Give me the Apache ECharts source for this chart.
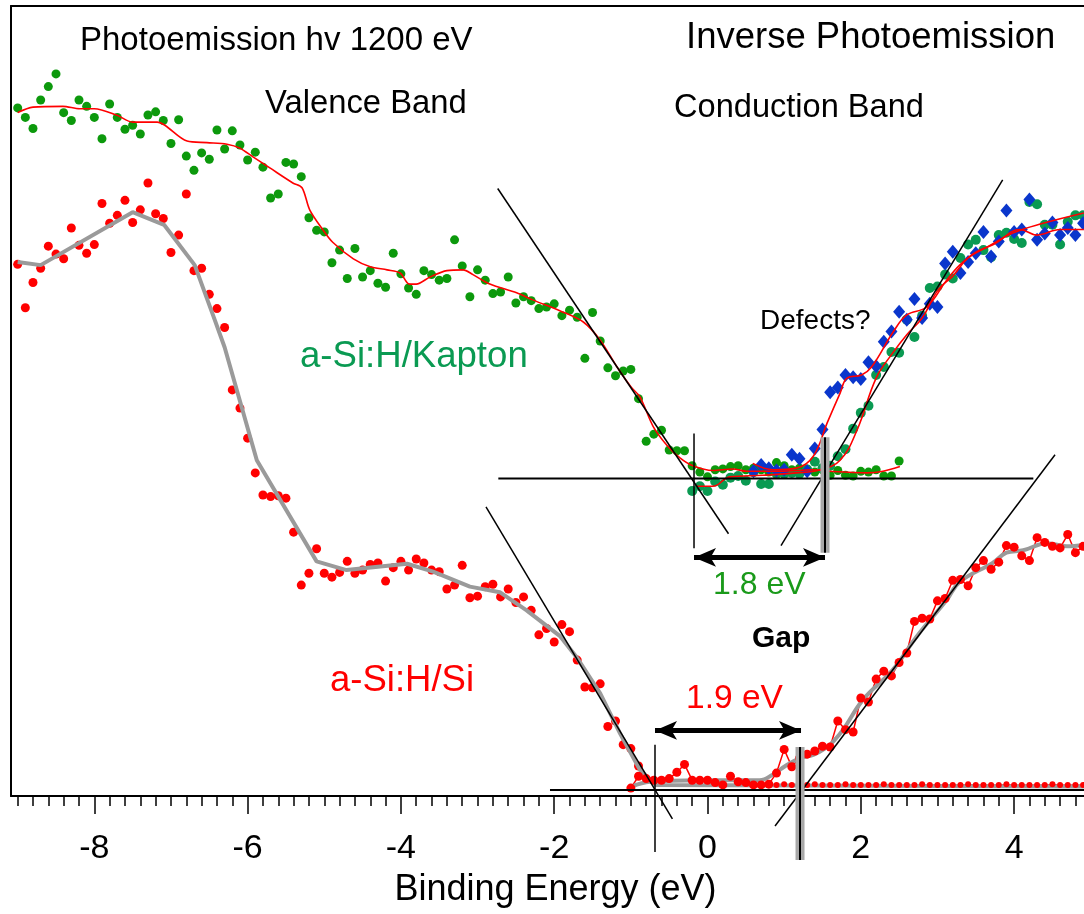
<!DOCTYPE html>
<html><head><meta charset="utf-8">
<script src="https://cdn.jsdelivr.net/npm/echarts@6/dist/echarts.min.js"></script>
<style>html,body{margin:0;padding:0;background:#fff}#c{width:1084px;height:914px}</style>
</head><body><div id="c"></div>
<script>
// ---------- axis ticks ----------
const majorTicks = [-8, -6, -4, -2, 0, 2, 4];
const minorTicks = [];
for (let k = -90; k <= 48; k += 2) minorTicks.push(k / 10);
const X_MIN = -9.087, X_MAX = 4.912;

// ---------- a-Si:H/Kapton : photoemission (valence band) ----------
const kaptonVB = [[-9.0,87.1],[-8.9,85.9],[-8.8,84.5],[-8.7,88.1],[-8.6,89.8],[-8.5,91.4],[-8.4,86.5],[-8.3,85.5],[-8.2,88.1],[-8.1,87.3],[-8.0,85.9],[-7.9,83.2],[-7.8,87.6],[-7.7,85.9],[-7.6,84.4],[-7.5,84.9],[-7.4,83.8],[-7.3,86.2],[-7.2,86.6],[-7.1,85.5],[-7.0,82.6],[-6.9,85.6],[-6.8,81.0],[-6.7,79.2],[-6.6,81.4],[-6.5,80.6],[-6.4,84.3],[-6.3,81.9],[-6.2,84.2],[-6.1,82.4],[-6.0,80.5],[-5.9,81.5],[-5.8,79.6],[-5.7,75.7],[-5.6,76.2],[-5.5,80.2],[-5.4,80.0],[-5.3,78.4],[-5.2,73.2],[-5.1,71.6],[-5.0,71.4],[-4.9,67.5],[-4.8,69.1],[-4.7,65.5],[-4.6,69.3],[-4.5,65.7],[-4.4,66.5],[-4.3,64.9],[-4.2,64.4],[-4.1,68.7],[-4.0,66.1],[-3.9,64.3],[-3.8,63.5],[-3.7,66.5],[-3.6,66.0],[-3.5,65.3],[-3.4,65.5],[-3.3,70.4],[-3.2,67.1],[-3.1,63.2],[-3.0,66.6],[-2.9,65.3],[-2.8,63.6],[-2.7,63.8],[-2.6,65.7],[-2.5,62.4],[-2.4,63.2],[-2.3,62.7],[-2.2,61.7],[-2.1,61.9],[-2.0,62.3],[-1.9,60.8],[-1.8,61.5],[-1.7,60.6],[-1.6,55.4],[-1.5,61.2],[-1.4,57.6],[-1.3,54.2],[-1.2,53.2],[-1.1,53.8],[-1.0,54.0],[-0.9,50.3],[-0.8,44.9],[-0.7,45.8],[-0.6,46.3],[-0.5,43.8],[-0.4,43.7],[-0.3,43.7],[-0.2,41.8],[-0.1,41.0],[0.0,40.4],[0.1,41.3],[0.2,41.4],[0.3,41.7],[0.4,41.8],[0.5,41.3],[0.6,41.5],[0.7,41.3],[0.8,41.0],[0.9,42.2],[1.0,41.8],[1.1,41.3],[1.2,41.5],[1.3,41.4],[1.4,41.0],[1.5,41.3],[1.6,40.6],[1.7,41.2],[1.8,40.6],[1.9,40.5],[2.0,41.1],[2.1,41.0],[2.2,41.3],[2.3,40.5],[2.4,40.5],[2.5,42.4]];
const kaptonVBfit = [[-9.0,86.5],[-8.8,87.2],[-8.41,87.3],[-8.19,87.0],[-8.0,87.0],[-7.71,86.2],[-7.5,85.3],[-7.18,85.3],[-7.08,84.9],[-6.79,82.9],[-6.53,82.7],[-6.27,82.5],[-6.1,82.0],[-5.93,80.9],[-5.71,79.5],[-5.41,77.6],[-5.29,77.0],[-5.19,74.2],[-5.02,71.7],[-4.89,70.1],[-4.62,68.0],[-4.4,67.0],[-4.18,66.6],[-4.01,66.2],[-3.89,64.8],[-3.8,64.8],[-3.62,65.7],[-3.4,66.5],[-3.19,66.6],[-3.06,66.0],[-2.84,64.8],[-2.49,63.7],[-2.28,62.8],[-1.92,61.4],[-1.62,60.0],[-1.4,57.7],[-1.18,54.3],[-1.0,51.8],[-0.88,50.5],[-0.71,46.8],[-0.53,44.4],[-0.36,42.8],[-0.19,41.8],[0.07,41.2],[0.33,41.4],[0.51,41.1],[0.95,41.1],[1.38,41.3],[1.6,41.1],[2.08,40.9],[2.29,41.1],[2.51,41.7]];

// ---------- a-Si:H/Kapton : inverse photoemission (conduction band) ----------
const kaptonCBgreen = [[-0.2,38.6],[-0.1,39.2],[0.0,38.6],[0.1,39.8],[0.2,39.4],[0.3,40.3],[0.4,40.5],[0.5,39.9],[0.6,41.0],[0.7,39.5],[0.8,39.5],[0.9,40.8],[1.0,40.8],[1.1,40.9],[1.2,40.8],[1.3,41.3],[1.4,42.3],[1.5,41.5],[1.6,41.8],[1.7,43.0],[1.8,43.9],[1.9,46.5],[2.0,48.5],[2.1,49.4],[2.2,53.3],[2.3,54.3],[2.4,56.2],[2.5,56.1],[2.6,60.3],[2.7,58.1],[2.8,60.8],[2.9,64.3],[3.0,64.5],[3.1,66.0],[3.2,65.5],[3.3,68.1],[3.4,69.8],[3.5,70.4],[3.6,69.1],[3.7,68.2],[3.8,71.0],[3.9,71.3],[4.0,70.5],[4.1,70.0],[4.2,75.2],[4.3,74.9],[4.4,72.3],[4.5,72.3],[4.6,69.8],[4.7,72.7],[4.8,73.5],[4.9,73.5]];
const kaptonCBgreenFit = [[-0.14,39.2],[0.07,39.2],[0.29,40.4],[0.72,40.6],[1.16,40.9],[1.47,41.3],[1.73,42.5],[1.95,46.3],[2.2,52.9],[2.41,56.0],[2.6,58.4],[2.8,60.5],[3.01,64.1],[3.2,65.8],[3.4,68.1],[3.65,69.5],[3.99,71.3],[4.38,72.5],[4.91,73.8]];
const kaptonCBblue = [[0.6,41.1],[0.7,41.9],[0.8,41.5],[0.9,41.2],[1.0,41.3],[1.1,43.2],[1.2,42.7],[1.3,41.1],[1.4,44.0],[1.5,46.4],[1.6,51.1],[1.7,51.7],[1.8,53.3],[1.9,53.0],[2.0,52.8],[2.1,54.9],[2.2,54.4],[2.3,57.5],[2.4,58.8],[2.5,61.3],[2.6,60.3],[2.7,62.9],[2.8,60.5],[2.9,62.3],[3.0,61.9],[3.1,67.4],[3.2,68.9],[3.3,66.2],[3.4,67.6],[3.5,68.7],[3.6,71.4],[3.7,68.3],[3.8,70.2],[3.9,74.1],[4.0,71.4],[4.1,71.7],[4.2,75.5],[4.3,70.4],[4.4,71.2],[4.5,72.6],[4.6,71.0],[4.7,71.9],[4.8,71.0],[4.9,72.5]];
const kaptonCBblueFit = [[0.59,42.1],[0.86,41.3],[1.16,41.5],[1.38,43.0],[1.56,47.2],[1.73,51.0],[1.82,52.9],[2.01,53.3],[2.14,54.3],[2.42,58.7],[2.6,60.9],[2.86,61.9],[3.12,65.3],[3.29,67.2],[3.51,68.9],[3.73,69.8],[4.08,71.7],[4.3,71.0],[4.6,71.7],[4.91,71.7]];

// ---------- a-Si:H/Si ----------
const siVB = [[-9.0,67.3],[-8.9,61.8],[-8.8,65.0],[-8.7,66.8],[-8.6,69.6],[-8.5,68.6],[-8.4,68.0],[-8.3,71.9],[-8.2,69.7],[-8.1,68.7],[-8.0,69.8],[-7.9,75.0],[-7.8,72.5],[-7.7,73.5],[-7.6,75.4],[-7.5,72.6],[-7.4,74.2],[-7.3,77.6],[-7.2,73.7],[-7.1,73.1],[-7.0,68.8],[-6.9,71.0],[-6.8,76.2],[-6.7,66.5],[-6.6,66.8],[-6.5,63.5],[-6.4,61.7],[-6.3,59.3],[-6.2,51.4],[-6.1,49.1],[-6.0,45.3],[-5.9,40.9],[-5.8,38.1],[-5.7,37.9],[-5.6,38.0],[-5.5,37.7],[-5.4,33.4],[-5.3,26.7],[-5.2,28.2],[-5.1,31.3],[-5.0,28.2],[-4.9,27.7],[-4.8,28.3],[-4.7,29.7],[-4.6,28.2],[-4.5,28.6],[-4.4,29.3],[-4.3,29.5],[-4.2,27.2],[-4.1,28.9],[-4.0,29.7],[-3.9,28.6],[-3.8,30.0],[-3.7,29.5],[-3.6,28.6],[-3.5,28.4],[-3.4,26.2],[-3.3,26.7],[-3.2,29.2],[-3.1,25.1],[-3.0,25.3],[-2.9,26.5],[-2.8,26.8],[-2.7,25.2],[-2.6,26.2],[-2.5,24.5],[-2.4,25.2],[-2.3,23.5],[-2.2,20.4],[-2.1,21.2],[-2.0,19.5],[-1.9,21.7],[-1.8,20.8],[-1.7,17.2],[-1.6,13.8],[-1.5,13.7],[-1.4,14.2],[-1.3,8.8],[-1.2,9.5],[-1.1,6.5],[-1.0,6.0],[-0.9,3.8]];
const siVBfit = [[-9.0,67.6],[-8.7,67.2],[-7.5,73.9],[-7.09,72.3],[-6.69,67.2],[-6.43,60.3],[-6.3,56.8],[-5.88,42.5],[-5.1,29.7],[-4.71,28.6],[-3.92,29.4],[-3.58,28.4],[-3.1,26.5],[-2.71,25.8],[-2.36,23.5],[-1.92,20.2],[-1.71,17.6],[-1.4,13.0],[-1.14,7.9],[-0.88,3.3],[-0.68,1.4],[4.91,1.2]];
const siBase = [[0.8,1.4],[0.9,1.4],[1.0,1.5],[1.1,1.4],[1.2,1.4],[1.3,1.4],[1.4,1.5],[1.5,1.4],[1.6,1.4],[1.7,1.4],[1.8,1.5],[1.9,1.4],[2.0,1.4],[2.1,1.4],[2.2,1.4],[2.3,1.5],[2.4,1.4],[2.5,1.4],[2.6,1.4],[2.7,1.4],[2.8,1.5],[2.9,1.4],[3.0,1.4],[3.1,1.4],[3.2,1.4],[3.3,1.4],[3.4,1.5],[3.5,1.4],[3.6,1.4],[3.7,1.4],[3.8,1.4],[3.9,1.5],[4.0,1.4],[4.1,1.4],[4.2,1.4],[4.3,1.4],[4.4,1.4],[4.5,1.5],[4.6,1.4],[4.7,1.4],[4.8,1.4],[4.9,1.4]];
const siCB = [[-1.0,1.0],[-0.9,2.5],[-0.8,2.2],[-0.7,2.0],[-0.6,2.0],[-0.5,2.2],[-0.4,3.0],[-0.3,4.0],[-0.2,2.0],[-0.1,2.0],[0.0,2.0],[0.1,1.7],[0.2,1.4],[0.3,2.5],[0.4,1.8],[0.5,1.7],[0.6,1.4],[0.7,1.4],[0.8,1.5],[0.9,2.9],[1.0,5.9],[1.1,3.7],[1.2,4.8],[1.3,5.3],[1.4,5.7],[1.5,6.3],[1.6,6.2],[1.7,9.5],[1.8,8.4],[1.9,8.1],[2.0,12.4],[2.1,11.9],[2.2,14.8],[2.3,15.8],[2.4,15.2],[2.5,16.9],[2.6,18.1],[2.7,22.1],[2.8,22.5],[2.9,22.4],[3.0,24.7],[3.1,25.0],[3.2,27.3],[3.3,27.4],[3.4,26.6],[3.5,28.9],[3.6,29.8],[3.7,28.7],[3.8,29.6],[3.9,31.7],[4.0,31.5],[4.1,30.4],[4.2,29.8],[4.3,32.7],[4.4,32.1],[4.5,31.6],[4.6,31.4],[4.7,33.1],[4.8,30.8],[4.9,31.6]];
const siCBfit = [[-0.99,1.2],[-0.75,1.8],[-0.1,2.0],[0.68,2.0],[0.85,2.7],[1.03,3.9],[1.21,4.8],[1.38,5.2],[1.56,6.2],[1.64,6.9],[1.77,8.4],[2.03,12.2],[2.42,16.0],[2.73,20.2],[3.12,24.8],[3.29,27.1],[3.72,29.5],[3.9,30.8],[4.12,31.1],[4.43,32.0],[4.69,31.6],[4.91,31.8]];

// ---------- gap construction lines ----------
const kaptonVBedge = [[-2.737,76.9],[0.274,33.2]];
const kaptonCBedge = [[0.959,31.7],[3.851,78.0]];
const kaptonBaseline = [[-2.729,40.2],[4.251,40.2]];
const kaptonVBM = [[-0.176,45.9],[-0.176,31.35]];
const kaptonCBM = [[1.533,45.4],[1.533,30.8]];
const kaptonGapArrow = [-0.176, 1.533, 30.2];
const siVBedge = [[-2.890,36.6],[-0.458,-2.9]];
const siCBedge = [[0.881,-3.8],[4.534,43.2]];
const siBaseline = [[-2.055,0.76],[4.912,0.76]];
const siVBM = [[-0.685,6.5],[-0.685,-7.1]];
const siCBM = [[1.207,6.2],[1.207,-8.1]];
const siGapArrow = [-0.685, 1.220, 8.3];

const FONT = '"Liberation Sans", Arial, sans-serif';
const RED = '#ff0000', GREEN = '#0c990c', TEAL = '#0a9a52', BLUE = '#0a36cc', GREY = '#9a9a9a';

function blackLine(d, w) {
  return {type: 'line', data: d, symbol: 'none', clip: false, silent: true,
    lineStyle: {color: '#000', width: w || 1.5}, z: 5};
}
function bar(d) {
  return [
    {type: 'line', data: d, symbol: 'none', clip: false, silent: true, lineStyle: {color: '#a8a8a8', width: 9, cap: 'butt'}, z: 6},
    {type: 'line', data: d, symbol: 'none', clip: false, silent: true, lineStyle: {color: '#000', width: 2, cap: 'butt'}, z: 7}
  ];
}
function arrow(a) {
  return {type: 'line', data: [], symbol: 'none', silent: true, z: 8,
    markLine: {silent: true, symbol: ['arrow', 'arrow'], symbolSize: [14, 22], label: {show: false},
      lineStyle: {color: '#000', width: 5, type: 'solid'},
      data: [[{coord: [a[0], a[2]]}, {coord: [a[1], a[2]]}]]}};
}
function dots(d, color, size, sym) {
  return {type: 'scatter', data: d, symbol: sym || 'circle', symbolSize: size,
    itemStyle: {color: color, opacity: 1}, silent: true};
}

const chart = echarts.init(document.getElementById('c'), null, {renderer: 'canvas'});
const textEl = (t, x, y, size, color, weight) => ({type: 'text', x: x, y: y, z: 100,
  style: {text: t, fill: color || '#000', font: (weight || 'normal') + ' ' + size + 'px ' + FONT, align: 'left', verticalAlign: 'middle'}});

chart.setOption({
  animation: false,
  backgroundColor: '#fff',
  grid: {left: 11, right: 0, top: 6, bottom: 118, containLabel: false},
  xAxis: [
    {type: 'value', min: X_MIN, max: X_MAX, position: 'bottom',
      axisLine: {show: true, onZero: false, lineStyle: {color: '#000', width: 2}},
      axisTick: {show: true, customValues: majorTicks, length: 18, lineStyle: {color: '#000', width: 1.5}},
      axisLabel: {show: true, customValues: majorTicks, margin: 36, fontSize: 34, color: '#000', fontFamily: FONT},
      splitLine: {show: false},
      name: 'Binding Energy (eV)', nameLocation: 'middle', nameGap: 76,
      nameTextStyle: {fontSize: 36, color: '#000', fontFamily: FONT, padding: [0, 0, 0, 16]}},
    {type: 'value', min: X_MIN, max: X_MAX, position: 'bottom',
      axisLine: {show: false, onZero: false},
      axisTick: {show: true, customValues: minorTicks, length: 10, lineStyle: {color: '#000', width: 1.5}},
      axisLabel: {show: false}, splitLine: {show: false}},
    {type: 'value', min: X_MIN, max: X_MAX, position: 'top',
      axisLine: {show: true, onZero: false, lineStyle: {color: '#000', width: 2}},
      axisTick: {show: false}, axisLabel: {show: false}, splitLine: {show: false}}
  ],
  yAxis: {type: 'value', min: 0, max: 100,
    axisLine: {show: true, onZero: false, lineStyle: {color: '#000', width: 2}},
    axisTick: {show: false}, axisLabel: {show: false}, splitLine: {show: false}},
  series: [
    dots(kaptonVB, GREEN, 9),
    dots(siVB, RED, 9),
    {type: 'line', data: siBase, symbol: 'circle', symbolSize: 6, showSymbol: true, itemStyle: {color: RED, opacity: 1}, lineStyle: {color: RED, width: 1}, silent: true},
    dots(kaptonCBgreen, TEAL, 10),
    dots(kaptonCBblue, BLUE, [12, 14], 'diamond'),
    {type: 'line', data: siCB, symbol: 'circle', symbolSize: 9, showSymbol: true, itemStyle: {color: RED, opacity: 1}, lineStyle: {color: RED, width: 1.5}, silent: true},
    {type: 'line', data: kaptonVBfit, symbol: 'none', smooth: 0.3, lineStyle: {color: RED, width: 1.6}, silent: true},
    {type: 'line', data: kaptonCBgreenFit, symbol: 'none', smooth: 0.4, lineStyle: {color: RED, width: 1.6}, silent: true},
    {type: 'line', data: kaptonCBblueFit, symbol: 'none', smooth: 0.4, lineStyle: {color: RED, width: 1.6}, silent: true},
    {type: 'line', data: siVBfit, symbol: 'none', lineStyle: {color: GREY, width: 4}, silent: true},
    {type: 'line', data: siCBfit, symbol: 'none', smooth: 0.4, lineStyle: {color: GREY, width: 4}, silent: true},
    blackLine(kaptonVBedge), blackLine(kaptonCBedge), blackLine(kaptonBaseline, 2), blackLine(kaptonVBM),
    blackLine(siVBedge), blackLine(siCBedge), blackLine(siBaseline, 2), blackLine(siVBM),
    ...bar(kaptonCBM), ...bar(siCBM),
    arrow(kaptonGapArrow), arrow(siGapArrow)
  ],
  graphic: [
    textEl('Photoemission hv 1200 eV', 80, 41, 33),
    textEl('Inverse Photoemission', 686, 38, 36.5),
    textEl('Valence Band', 265, 104, 32.8),
    textEl('Conduction Band', 674, 108, 32.6),
    textEl('Defects?', 760, 321, 28),
    textEl('a-Si:H/Kapton', 300, 357, 36.6, TEAL),
    textEl('1.8 eV', 713, 585, 32, '#1a9a1a'),
    textEl('Gap', 752, 639, 30, '#000', 'bold'),
    textEl('a-Si:H/Si', 330, 681, 36.5, RED),
    textEl('1.9 eV', 686, 699, 33.5, RED)
  ]
});
</script>
</body></html>
